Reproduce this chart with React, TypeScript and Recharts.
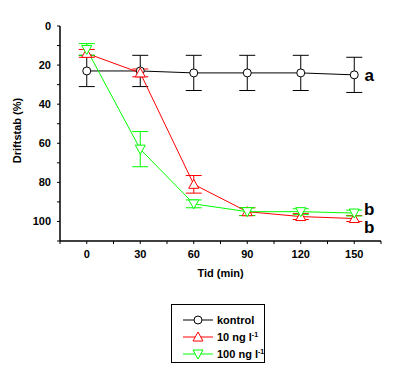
import React from 'react';
import { LineChart, Line, XAxis, YAxis, ErrorBar, LabelList } from 'recharts';

const time = [0, 30, 60, 90, 120, 150];
const kontrol = [23, 23, 24, 24, 24, 25];
const kontrolErr = [8, 8, 9, 9, 9, 9];
const ng10 = [14, 24, 81, 95, 97.5, 98.5];
const ng10Err = [2, 2, 4.5, 2, 1.5, 1.5];
const ng100 = [12, 63, 91, 95, 95, 95.7];
const ng100Err = [3, 9, 2, 2, 1.5, 1.5];

const xTicks = [-15, 0, 15, 30, 45, 60, 75, 90, 105, 120, 135, 150, 165];
const xLabels = [0, 30, 60, 90, 120, 150];
const yTicks = [0, 10, 20, 30, 40, 50, 60, 70, 80, 90, 100, 110];
const yLabels = [0, 20, 40, 60, 80, 100];

const data = time.map((t, i) => ({
  t,
  kontrol: kontrol[i],
  kontrolErr: kontrolErr[i],
  ng10: ng10[i],
  ng10Err: ng10Err[i],
  ng100: ng100[i],
  ng100Err: ng100Err[i],
}));

const FONT = '"Liberation Sans", Arial, sans-serif';
const RED = '#ff0000';
const GREEN = '#00ff00';

const Circle = (props: any) => {
  const { cx, cy } = props;
  if (cx == null || cy == null) return null;
  return <circle cx={cx} cy={cy} r={4} fill="#fff" stroke="#000" strokeWidth={1} />;
};

const TriUp = (props: any) => {
  const { cx, cy } = props;
  if (cx == null || cy == null) return null;
  return (
    <polygon
      points={`${cx},${cy - 5} ${cx - 5},${cy + 4} ${cx + 5},${cy + 4}`}
      fill="#fff"
      stroke={RED}
      strokeWidth={1}
    />
  );
};

const TriDown = (props: any) => {
  const { cx, cy } = props;
  if (cx == null || cy == null) return null;
  return (
    <polygon
      points={`${cx},${cy + 5} ${cx - 5},${cy - 4} ${cx + 5},${cy - 4}`}
      fill="#fff"
      stroke={GREEN}
      strokeWidth={1}
    />
  );
};

const XTick = ({ x, y, payload }: any) =>
  xLabels.includes(payload.value) ? (
    <text x={x} y={y} dy={12} textAnchor="middle" fontFamily={FONT} fontSize={11} fontWeight="bold" fill="#000">
      {payload.value}
    </text>
  ) : null;

const YTick = ({ x, y, payload }: any) =>
  yLabels.includes(payload.value) ? (
    <text x={x} y={y} dy={4} textAnchor="end" fontFamily={FONT} fontSize={11} fontWeight="bold" fill="#000">
      {payload.value}
    </text>
  ) : null;

const groupLabel = (letter: string, dy: number, last: number) => (props: any) => {
  const { x, y, index } = props;
  if (index !== last) return null;
  return (
    <text x={x + 15} y={y + dy} textAnchor="middle" fontFamily={FONT} fontSize={17} fontWeight="bold" fill="#000">
      {letter}
    </text>
  );
};

const LegendRow = ({ color, marker, children }: any) => (
  <div style={{ display: 'flex', alignItems: 'center', height: 17, whiteSpace: 'nowrap' }}>
    <svg width={32} height={14} style={{ marginLeft: 10, flex: 'none' }}>
      <line x1={1} y1={7} x2={31} y2={7} stroke={color} strokeWidth={1} />
      {marker}
    </svg>
    <span style={{ marginLeft: 3, fontFamily: FONT, fontSize: 11, fontWeight: 'bold', lineHeight: '14px' }}>{children}</span>
  </div>
);

const Sup = ({ children }: any) => (
  <span style={{ fontSize: 7, position: 'relative', top: -4, lineHeight: 0 }}>{children}</span>
);

export default function App() {
  const last = time.length - 1;
  return (
    <div style={{ position: 'absolute', left: 0, top: 0, width: 397, height: 368, background: '#fff' }}>
      <LineChart width={397} height={368} data={data} margin={{ top: 26, right: 16, bottom: 95, left: 0 }}>
        <XAxis
          dataKey="t"
          type="number"
          domain={[-15, 165]}
          ticks={xTicks}
          interval={0}
          tick={<XTick />}
          tickSize={3}
          height={32}
          stroke="#000"
          axisLine={{ stroke: '#000', strokeWidth: 1.5 }}
          label={{ value: 'Tid (min)', position: 'insideBottom', offset: -4, fontFamily: FONT, fontSize: 11, fontWeight: 'bold', fill: '#000' }}
        />
        <XAxis xAxisId="top" orientation="top" type="number" domain={[-15, 165]} height={0} tick={false} tickLine={false} axisLine={{ stroke: '#000', strokeWidth: 1.5 }} />
        <YAxis
          type="number"
          domain={[0, 110]}
          reversed
          ticks={yTicks}
          interval={0}
          tick={<YTick />}
          tickSize={3}
          tickMargin={6}
          width={60}
          stroke="#000"
          axisLine={{ stroke: '#000', strokeWidth: 1.5 }}
          label={{
            content: ({ viewBox }: any) => (
              <text
                x={0}
                y={0}
                transform={`translate(${viewBox.x + 21}, ${viewBox.y + viewBox.height / 2 - 3}) rotate(-90)`}
                textAnchor="middle"
                fontFamily={FONT}
                fontSize={11}
                fontWeight="bold"
                fill="#000"
              >
                Driftstab (%)
              </text>
            ),
          }}
        />
        <YAxis yAxisId="right" orientation="right" type="number" domain={[0, 110]} width={0} tick={false} tickLine={false} axisLine={{ stroke: '#000', strokeWidth: 1.5 }} />

        <Line dataKey="kontrol" stroke="#000" strokeWidth={1} dot={<Circle />} activeDot={false} isAnimationActive={false}>
          <ErrorBar dataKey="kontrolErr" width={8} stroke="#000" strokeWidth={1} direction="y" />
          <LabelList dataKey="kontrol" content={groupLabel('a', 6, last)} />
        </Line>
        <Line dataKey="ng10" stroke={RED} strokeWidth={1} dot={<TriUp />} activeDot={false} isAnimationActive={false}>
          <ErrorBar dataKey="ng10Err" width={8} stroke={RED} strokeWidth={1} direction="y" />
          <LabelList dataKey="ng10" content={groupLabel('b', 14, last)} />
        </Line>
        <Line dataKey="ng100" stroke={GREEN} strokeWidth={1} dot={<TriDown />} activeDot={false} isAnimationActive={false}>
          <ErrorBar dataKey="ng100Err" width={8} stroke={GREEN} strokeWidth={1} direction="y" />
          <LabelList dataKey="ng100" content={groupLabel('b', 2, last)} />
        </Line>
      </LineChart>

      <div
        style={{
          position: 'absolute',
          left: 171,
          top: 304,
          width: 94,
          height: 59,
          border: '1px solid #000',
          paddingTop: 6,
          boxSizing: 'border-box',
          background: '#fff',
        }}
      >
        <LegendRow color="#000" marker={<circle cx={16} cy={7} r={4} fill="#fff" stroke="#000" />}>kontrol</LegendRow>
        <LegendRow color={RED} marker={<polygon points="16,2 11,11 21,11" fill="#fff" stroke={RED} />}>
          10 ng l<Sup>-1</Sup>
        </LegendRow>
        <LegendRow color={GREEN} marker={<polygon points="16,12 11,3 21,3" fill="#fff" stroke={GREEN} />}>
          100 ng l<Sup>-1</Sup>
        </LegendRow>
      </div>
    </div>
  );
}
